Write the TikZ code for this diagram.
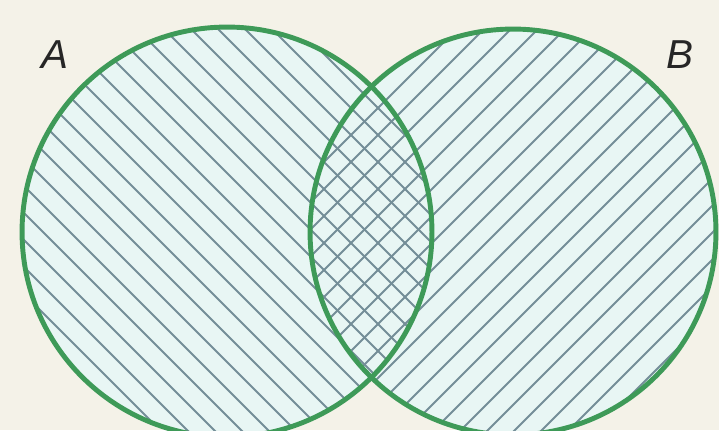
\documentclass[tikz,border=0pt]{standalone}
\usepackage{fontspec}
\setsansfont{Liberation Sans}
\definecolor{paper}{HTML}{F4F2E8}
\definecolor{setfill}{HTML}{E8F6F4}
\definecolor{rim}{HTML}{3E9A58}
\definecolor{hatch}{HTML}{748E98}

\begin{document}
\begin{tikzpicture}[x=0.02cm, y=-0.02cm,
        rimline/.style={draw=rim, line width=2.8pt},
        hatchline/.style={draw=hatch, line width=1.1pt},
        setname/.style={font=\sffamily\itshape\fontsize{23}{25}\selectfont, text=black!85}]
    \useasboundingbox (0,0) rectangle (719,430);
    \fill[paper] (0,0) rectangle (719,430);
    \coordinate (ca) at (227,232);
    \coordinate (cb) at (513,232);
    % set interiors
    \fill[setfill] (ca) circle (4.1cm);
    \fill[setfill] (cb) circle (4.06cm);
    % hatching of A
    \begin{scope}
        \clip (ca) circle (4.1cm);
        \foreach \k in {-16,...,16}
            \draw[hatchline] ({\k*27-60},-60) -- ({\k*27+560},560);
    \end{scope}
    % hatching of B
    \begin{scope}
        \clip (cb) circle (4.06cm);
        \foreach \k in {12,...,44}
            \draw[hatchline] ({\k*27+60},-60) -- ({\k*27-560},560);
    \end{scope}
    % outlines
    \draw[rimline] (ca) circle (4.1cm);
    \draw[rimline] (cb) circle (4.06cm);
    \node[setname] (seta) at (55,55) {A};
    \node[setname] (setb) at (680,55) {B};
\end{tikzpicture}
\end{document}
